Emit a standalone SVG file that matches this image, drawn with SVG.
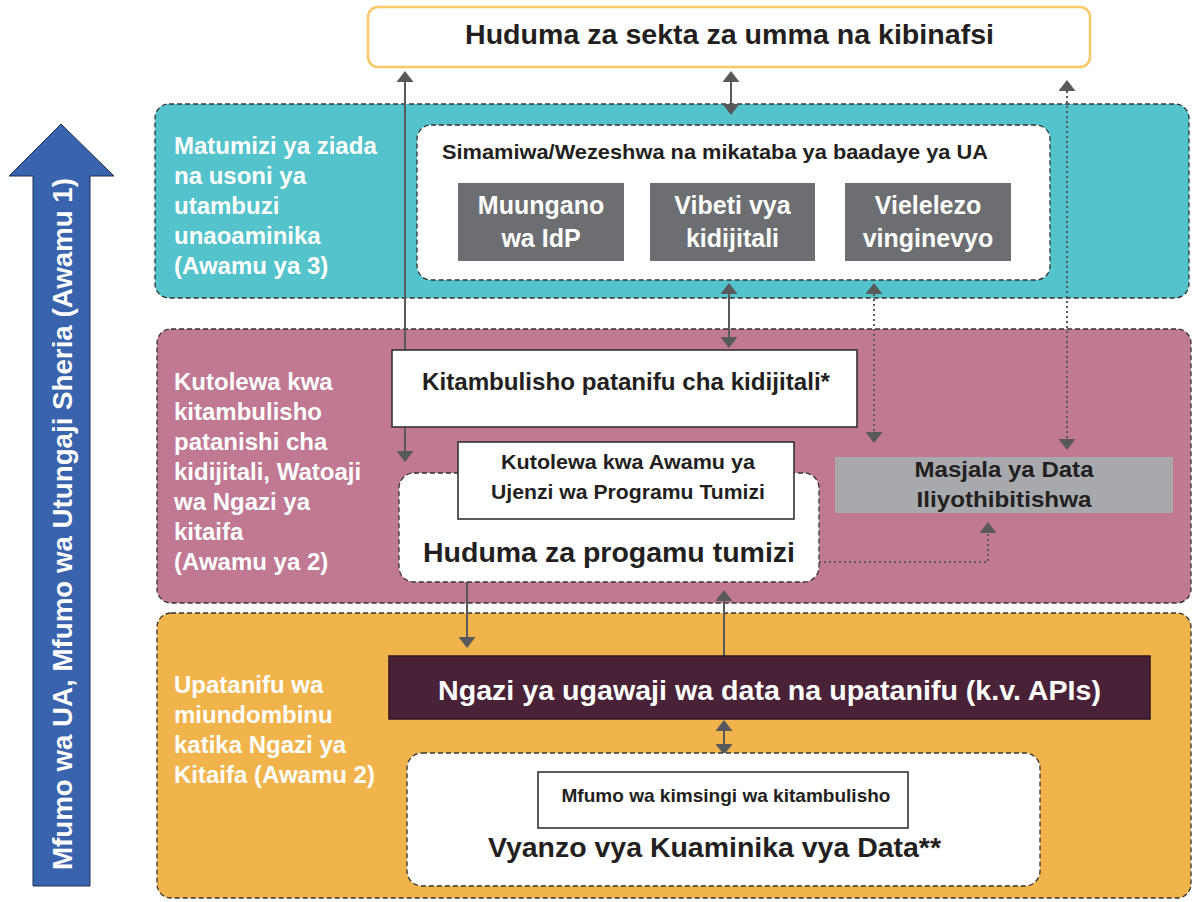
<svg xmlns="http://www.w3.org/2000/svg" width="1195" height="902" viewBox="0 0 1195 902">
<style>
text{font-family:"Liberation Sans",Arial,sans-serif;font-weight:bold}
.lbl{fill:#ffffff;font-size:24px}
.dk{fill:#231f20}
.panel{stroke:#333;stroke-width:1.3;stroke-dasharray:5 3}
.wdash{fill:#fff;stroke:#333;stroke-width:1.3;stroke-dasharray:5 3}
.sbox{fill:#fff;stroke:#333;stroke-width:1.6}
.gray{fill:#6d6e71}
.gt{fill:#fff;font-size:25px}
.ln{stroke:#58595b;stroke-width:2;fill:none}
.dot{stroke:#58595b;stroke-width:2;fill:none;stroke-dasharray:2 3}
.ar{marker-end:url(#ah)}
.ar2{marker-start:url(#ah);marker-end:url(#ah)}
</style>
<defs>
<marker id="ah" viewBox="0 0 11 17" refX="0" refY="8.5" markerWidth="11" markerHeight="17" markerUnits="userSpaceOnUse" orient="auto-start-reverse">
<path d="M0,0 L11,8.5 L0,17 Z" fill="#58595b"/>
</marker>
</defs>
<rect width="1195" height="902" fill="#fff"/>

<g id="legal-arrow">
<polygon points="61,124 114,176 90,176 90,886 33,886 33,176 9,176" fill="#3a63ad" stroke="#1f2f55" stroke-width="1"/>
<text transform="translate(72,870) rotate(-90)" x="0" y="0" font-size="28" fill="#fff" textLength="692" lengthAdjust="spacingAndGlyphs">Mfumo wa UA, Mfumo wa Utungaji Sheria (Awamu 1)</text>
</g>

<g id="top-services">
<rect x="368" y="7" width="722" height="60" rx="10" fill="#fff" stroke="#fcc768" stroke-width="2.5"/>
<text class="dk" x="729.5" y="44" font-size="28.5" text-anchor="middle" textLength="529" lengthAdjust="spacingAndGlyphs">Huduma za sekta za umma na kibinafsi</text>
</g>

<g id="panel-teal">
<rect class="panel" x="155" y="104" width="1034" height="194" rx="14" fill="#54c3cb"/>
<text class="lbl" x="174" y="154">Matumizi ya ziada</text>
<text class="lbl" x="174" y="184">na usoni ya</text>
<text class="lbl" x="174" y="214">utambuzi</text>
<text class="lbl" x="174" y="244">unaoaminika</text>
<text class="lbl" x="174" y="274">(Awamu ya 3)</text>
</g>

<g id="panel-pink">
<rect class="panel" x="157" y="329" width="1034" height="274" rx="14" fill="#c07893"/>
<text class="lbl" x="174" y="390">Kutolewa kwa</text>
<text class="lbl" x="174" y="420">kitambulisho</text>
<text class="lbl" x="174" y="450">patanishi cha</text>
<text class="lbl" x="174" y="480">kidijitali, Watoaji</text>
<text class="lbl" x="174" y="510">wa Ngazi ya</text>
<text class="lbl" x="174" y="540">kitaifa</text>
<text class="lbl" x="174" y="570">(Awamu ya 2)</text>
</g>

<g id="panel-orange">
<rect class="panel" x="157" y="613" width="1034" height="285" rx="14" fill="#f1b44c"/>
<text class="lbl" x="174" y="693">Upatanifu wa</text>
<text class="lbl" x="174" y="723">miundombinu</text>
<text class="lbl" x="174" y="753">katika Ngazi ya</text>
<text class="lbl" x="174" y="783">Kitaifa (Awamu 2)</text>
</g>

<g id="connectors">
<line class="ln ar2" x1="405" y1="82" x2="405" y2="451"/>
<line class="ln ar2" x1="731" y1="82" x2="731" y2="104"/>
<line class="ln ar2" x1="729" y1="294" x2="729" y2="337"/>
<line class="dot ar2" x1="874" y1="294" x2="874" y2="432"/>
<line class="dot ar2" x1="1067" y1="91" x2="1067" y2="439"/>
<path class="dot ar" d="M819,562 H988 V533"/>
<line class="ln ar" x1="467" y1="582" x2="467" y2="637"/>
<line class="ln ar" x1="724" y1="656" x2="724" y2="601"/>
<line class="ln ar2" x1="724" y1="731" x2="724" y2="744"/>
</g>

<g id="governed-frameworks">
<rect class="wdash" x="417" y="125" width="633" height="155" rx="14"/>
<text class="dk" x="442" y="159" font-size="21" textLength="546" lengthAdjust="spacingAndGlyphs">Simamiwa/Wezeshwa na mikataba ya baadaye ya UA</text>
</g>

<g id="idp-federation">
<rect class="gray" x="458" y="183" width="166" height="78"/>
<text class="gt" x="541" y="214" text-anchor="middle">Muungano</text>
<text class="gt" x="541" y="247" text-anchor="middle">wa IdP</text>
</g>

<g id="digital-wallets">
<rect class="gray" x="650" y="183" width="165" height="78"/>
<text class="gt" x="732.5" y="214" text-anchor="middle">Vibeti vya</text>
<text class="gt" x="732.5" y="247" text-anchor="middle">kidijitali</text>
</g>

<g id="other-credentials">
<rect class="gray" x="845" y="183" width="166" height="78"/>
<text class="gt" x="928" y="214" text-anchor="middle">Vielelezo</text>
<text class="gt" x="928" y="247" text-anchor="middle">vinginevyo</text>
</g>

<g id="digital-id">
<rect class="sbox" x="392" y="350" width="465" height="77"/>
<text class="dk" x="626" y="390" font-size="24" text-anchor="middle" textLength="408" lengthAdjust="spacingAndGlyphs">Kitambulisho patanifu cha kidijitali*</text>
</g>

<g id="app-services">
<rect class="wdash" x="399" y="473" width="420" height="109" rx="15"/>
<text class="dk" x="609" y="562" font-size="28.5" text-anchor="middle" textLength="372" lengthAdjust="spacingAndGlyphs">Huduma za progamu tumizi</text>
</g>

<g id="app-layer">
<rect class="sbox" x="458" y="442" width="336" height="77"/>
<text class="dk" x="628" y="469" font-size="21" text-anchor="middle" textLength="254" lengthAdjust="spacingAndGlyphs">Kutolewa kwa Awamu ya</text>
<text class="dk" x="628" y="499" font-size="21" text-anchor="middle" textLength="274" lengthAdjust="spacingAndGlyphs">Ujenzi wa Programu Tumizi</text>
</g>

<g id="data-registry">
<rect x="835" y="457" width="338" height="56" fill="#a7a9ac"/>
<text class="dk" x="1004" y="477" font-size="21.5" text-anchor="middle" textLength="179" lengthAdjust="spacingAndGlyphs">Masjala ya Data</text>
<text class="dk" x="1004" y="507" font-size="21.5" text-anchor="middle" textLength="175" lengthAdjust="spacingAndGlyphs">Iliyothibitishwa</text>
</g>

<g id="data-exchange">
<rect x="389" y="656" width="761" height="63" fill="#4a2238" stroke="#2b1422" stroke-width="1.5"/>
<text x="769.5" y="700" font-size="28.5" fill="#fff" text-anchor="middle" textLength="663" lengthAdjust="spacingAndGlyphs">Ngazi ya ugawaji wa data na upatanifu (k.v. APIs)</text>
</g>

<g id="trusted-sources">
<rect class="wdash" x="407" y="753" width="633" height="133" rx="15"/>
<text class="dk" x="714.5" y="857" font-size="28.4" text-anchor="middle" textLength="453" lengthAdjust="spacingAndGlyphs">Vyanzo vya Kuaminika vya Data**</text>
</g>

<g id="foundational-id">
<rect class="sbox" x="538" y="772" width="370" height="56"/>
<text class="dk" x="726" y="802" font-size="19" text-anchor="middle" textLength="329" lengthAdjust="spacingAndGlyphs">Mfumo wa kimsingi wa kitambulisho</text>
</g>
</svg>
